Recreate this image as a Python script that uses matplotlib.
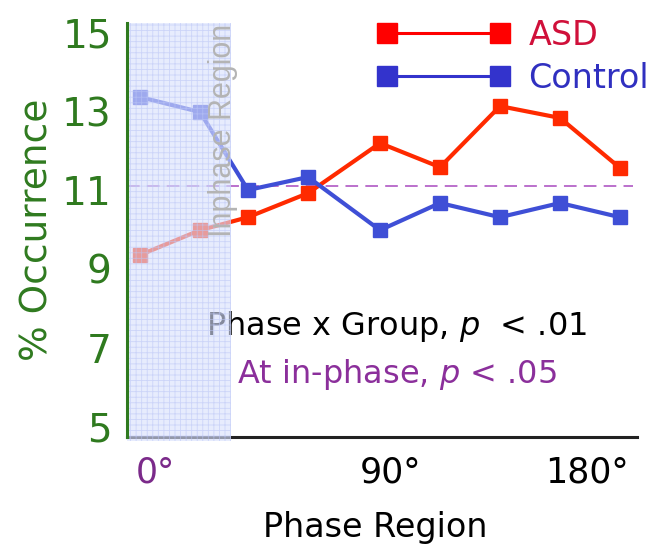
import matplotlib.pyplot as plt
import numpy as np

# phase regions (0..180 deg in 9 bins), positions
phase_pos = [0, 1, 1.8, 2.8, 4, 5, 6, 7, 8]
asd = [9.35, 9.98, 10.31, 10.92, 12.19, 11.58, 13.13, 12.83, 11.56]
control = [13.36, 12.98, 11.0, 11.33, 9.98, 10.67, 10.31, 10.67, 10.31]
chance = 100 / 9

ytick_vals = [5, 7, 9, 11, 13, 15]
xtick_pos = [0.25, 4.18, 7.45]
xtick_labels = ['0°', '90°', '180°']
xtick_colors = ['#7b2a8a', 'black', 'black']

green = '#2f7a1f'

fig = plt.figure(figsize=(6.59, 5.44), dpi=100)
ax = fig.add_axes([0.1927, 0.1967, 0.7739, 0.7610])

ax.set_xlim(-0.217, 8.283)
ax.set_ylim(4.73, 15.24)

#   data lines
ax.plot(phase_pos, asd, color='#ff2a00', lw=3, marker='s', ms=9.5, zorder=3)
ax.plot(phase_pos, control, color='#3f4fd6', lw=3, marker='s', ms=9.5, zorder=3)

# chance level
ax.plot([-0.217, 8.22], [chance, chance], color='#b565c8', lw=1.3,
        dashes=(7, 4), zorder=2)

# in-phase shading sits on top of the lines
plt.rcParams['hatch.linewidth'] = 0.6
ax.axvspan(-0.217, 1.52, ymin=-0.01, ymax=1.0, facecolor='#d9e1fd',
           edgecolor='#bcc6f6', hatch='+++', lw=0, alpha=0.62, zorder=4,
           clip_on=False)
ax.text(1.38, 12.52, 'Inphase Region', rotation=90, ha='center', va='center',
        color='#b4b4b4', fontsize=22, family='Liberation Sans', zorder=5)

# spines
for s in ['top', 'right']:
    ax.spines[s].set_visible(False)
ax.spines['left'].set_color(green)
ax.spines['left'].set_linewidth(2.2)
ax.spines['left'].set_zorder(6)
ax.spines['bottom'].set_color('#222222')
ax.spines['bottom'].set_linewidth(2.2)

ax.set_yticks(ytick_vals)
ax.set_yticklabels([str(v) for v in ytick_vals])
ax.tick_params(axis='y', length=0, pad=11, labelsize=28, labelcolor=green)
ax.set_xticks(xtick_pos)
ax.set_xticklabels(xtick_labels)
ax.tick_params(axis='x', length=0, pad=13, labelsize=25)
for lab, c in zip(ax.get_xticklabels(), xtick_colors):
    lab.set_color(c)

ax.set_ylabel('% Occurrence', fontsize=27, color=green)
ax.yaxis.set_label_coords(-0.141, 0.5)
ax.set_xlabel('Phase Region', fontsize=24)
ax.xaxis.set_label_coords(0.486, -0.178)

# stats text
ax.text(0.529, 0.267, r'Phase x Group, $p$  < .01', transform=ax.transAxes,
        ha='center', va='center', fontsize=23, color='black')
ax.text(0.529, 0.150, r'At in-phase, $p$ < .05', transform=ax.transAxes,
        ha='center', va='center', fontsize=23, color='#8b2f9b')

# legend
h1, = ax.plot([], [], color='#ff0000', lw=2.2, marker='s', ms=14)
h2, = ax.plot([], [], color='#3333cc', lw=2.2, marker='s', ms=14)
leg = fig.legend([h1, h2], ['ASD', 'Control'], loc='upper left',
                 bbox_to_anchor=(360 / 659, 1 - 2 / 544), frameon=False,
                 numpoints=2, handlelength=4.0, handletextpad=0.55,
                 fontsize=24, labelspacing=0.3, borderaxespad=0.1,
                 labelcolor=['#d0103a', '#3030c0'])

fig.savefig('out.png', dpi=100)
